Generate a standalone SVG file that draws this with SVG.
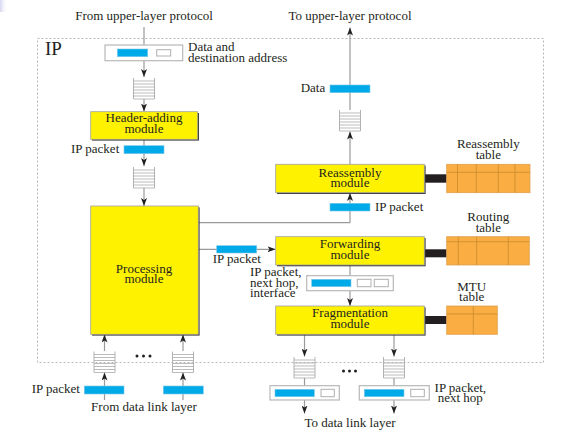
<svg xmlns="http://www.w3.org/2000/svg" width="588" height="438" viewBox="0 0 588 438" font-family="'Liberation Serif', 'DejaVu Serif', serif">
<defs>
<style>
text{font-family:'Liberation Serif','DejaVu Serif',serif;font-size:13px;fill:#231f20}
.c{text-anchor:middle}
.ln{stroke:#9a9a9a;stroke-width:1.2;fill:none}
.arr{stroke:#9a9a9a;stroke-width:1.2;fill:none;marker-end:url(#ah)}
.mod{fill:#fff200;stroke:#a0a0a0;stroke-width:0.8}
.sh{fill:#3a3a3a}
.pkt{fill:#00a9e8;stroke:#7cc8ea;stroke-width:0.6}
.wbox{fill:#fff;stroke:#b8b8b8;stroke-width:1.2}
.wsm{fill:#fff;stroke:#b0b0b0;stroke-width:1}
.tbl{fill:#f9ad42;stroke:#e0a050;stroke-width:0.8}
.tl{stroke:#c98a2c;stroke-width:0.8}
.conn{fill:#231f20}
.dot{fill:#231f20}
</style>
<marker id="ah" viewBox="0 0 8 6" markerWidth="8" markerHeight="6" refX="8" refY="3" orient="auto" markerUnits="userSpaceOnUse">
<path d="M0,0 L8,3 L0,6 L2,3 z" fill="#231f20"/>
</marker>
<g id="queue">
<path d="M0,0 V21 M21,0 V21" stroke="#aaaaaa" stroke-width="0.9" fill="none"/>
<path d="M0,3 H21 M0,6 H21 M0,9 H21 M0,12 H21 M0,15 H21 M0,18 H21 M0,21 H21" stroke="#aaaaaa" stroke-width="0.8" fill="none"/>
</g>
<linearGradient id="corner" x1="0" y1="0" x2="1" y2="0">
<stop offset="0" stop-color="#d6d6f2"/>
<stop offset="1" stop-color="#ffffff" stop-opacity="0"/>
</linearGradient>
</defs>
<rect x="0" y="0" width="8" height="12" fill="url(#corner)"/>

<!-- IP boundary -->
<rect x="37.5" y="38.5" width="506" height="324" fill="none" stroke="#b0b0b0" stroke-width="0.9" stroke-dasharray="2,2"/>
<text x="45" y="55" style="font-size:19px">IP</text>

<g id="connectors">
<line class="arr" x1="144" y1="27" x2="144" y2="77"/>
<line class="arr" x1="144" y1="99" x2="144" y2="111.5"/>
<line class="arr" x1="144" y1="139.5" x2="144" y2="166"/>
<line class="arr" x1="144" y1="188" x2="144" y2="206"/>
<polyline class="arr" points="198.5,222.7 350,222.7 350,193"/>
<line class="arr" x1="198.5" y1="249.3" x2="275.5" y2="249.3"/>
<line class="ln" x1="350" y1="265" x2="350" y2="276"/>
<line class="arr" x1="350" y1="290.7" x2="350" y2="306"/>
<line class="arr" x1="350" y1="164.3" x2="350" y2="131.5"/>
<line class="arr" x1="350" y1="110" x2="350" y2="27.5"/>
<line class="arr" x1="104.5" y1="400" x2="104.5" y2="372.5"/>
<line class="arr" x1="104.5" y1="351" x2="104.5" y2="334.5"/>
<line class="arr" x1="183" y1="400" x2="183" y2="372.5"/>
<line class="arr" x1="183" y1="351" x2="183" y2="334.5"/>
<line class="arr" x1="304.5" y1="334.5" x2="304.5" y2="356.5"/>
<line class="ln" x1="304.5" y1="378" x2="304.5" y2="386"/>
<line class="arr" x1="304.5" y1="400" x2="304.5" y2="413.5"/>
<line class="arr" x1="394" y1="334.5" x2="394" y2="356.5"/>
<line class="ln" x1="394" y1="378" x2="394" y2="386"/>
<line class="arr" x1="394" y1="400" x2="394" y2="413.5"/>
<rect class="conn" x="424.3" y="174.3" width="22.4" height="8.4"/>
<rect class="conn" x="424.3" y="249.3" width="22.4" height="8"/>
<rect class="conn" x="424.3" y="316" width="22.4" height="8"/>
</g>

<g id="data-in">
<rect class="wbox" x="105" y="45" width="77.7" height="15.7"/>
<rect class="pkt" x="117.3" y="49" width="30.4" height="7.7"/>
<rect class="wsm" x="156.7" y="49.7" width="14" height="6.3"/>
<text x="188" y="50.7">Data and</text>
<text x="188" y="61.5">destination address</text>
</g>

<g id="queues">
<use href="#queue" x="133.5" y="78"/>
<use href="#queue" x="133.5" y="167"/>
<use href="#queue" x="339.5" y="110"/>
<use href="#queue" x="94" y="351.5"/>
<use href="#queue" x="172.5" y="351.5"/>
<use href="#queue" x="294" y="357"/>
<use href="#queue" x="383.5" y="357"/>
</g>

<g id="header-adding">
<rect class="sh" x="92" y="113" width="107" height="27.6"/>
<rect class="mod" x="90.7" y="111.7" width="107" height="27.6"/>
<text class="c" x="144" y="122">Header-adding</text>
<text class="c" x="144" y="133">module</text>
</g>

<g id="ip-packet-1">
<rect class="pkt" x="124" y="145.7" width="40" height="8"/>
<text x="71" y="153">IP packet</text>
</g>

<g id="processing">
<rect class="sh" x="92" y="207.3" width="107.6" height="128.3"/>
<rect class="mod" x="90.7" y="206" width="107.6" height="128.3"/>
<text class="c" x="144" y="272.7">Processing</text>
<text class="c" x="144" y="282.7">module</text>
</g>

<g id="data-out">
<rect class="pkt" x="330" y="85" width="40" height="7.7"/>
<text x="300.7" y="91.7">Data</text>
</g>

<g id="reassembly">
<rect class="sh" x="277" y="165.6" width="148.6" height="28.4"/>
<rect class="mod" x="275.7" y="164.3" width="148.6" height="28.4"/>
<text class="c" x="350" y="176.7">Reassembly</text>
<text class="c" x="350" y="186.7">module</text>
</g>

<g id="reassembly-table">
<rect class="tbl" x="446.7" y="164.3" width="83.3" height="28.4"/>
<path class="tl" d="M446.7,172.3 H530 M457.5,164.3 V192.7 M476.3,164.3 V192.7 M498.3,164.3 V192.7 M515,164.3 V192.7"/>
<text class="c" x="488.3" y="148.3">Reassembly</text>
<text class="c" x="488.3" y="159.3">table</text>
</g>

<g id="ip-packet-2">
<rect class="pkt" x="330" y="203.3" width="40" height="7.7"/>
<text x="375" y="210.7">IP packet</text>
</g>

<g id="ip-packet-3">
<rect class="pkt" x="216.7" y="245.7" width="40" height="7.3"/>
<text x="212.7" y="263.3">IP packet</text>
</g>

<g id="forwarding">
<rect class="sh" x="277" y="238" width="148.6" height="28.3"/>
<rect class="mod" x="275.7" y="236.7" width="148.6" height="28.3"/>
<text class="c" x="350" y="248.3">Forwarding</text>
<text class="c" x="350" y="259.3">module</text>
</g>

<g id="routing-table">
<rect class="tbl" x="446.7" y="236.7" width="82.6" height="28.3"/>
<path class="tl" d="M446.7,241.7 H529.3 M458.3,236.7 V265 M476.7,236.7 V265 M508.3,236.7 V265"/>
<text class="c" x="488.3" y="220.7">Routing</text>
<text class="c" x="488.3" y="231.7">table</text>
</g>

<g id="next-hop-box">
<rect class="wbox" x="306.7" y="275.7" width="86.6" height="15"/>
<rect class="pkt" x="311.7" y="279.3" width="39.3" height="7.4"/>
<rect class="wsm" x="357.3" y="279.3" width="13.7" height="7.4"/>
<rect class="wsm" x="374.3" y="279.3" width="14" height="7.4"/>
<text x="250" y="276">IP packet,</text>
<text x="250" y="286.7">next hop,</text>
<text x="250" y="297.3">interface</text>
</g>

<g id="fragmentation">
<rect class="sh" x="277" y="307.3" width="148.6" height="28.3"/>
<rect class="mod" x="275.7" y="306" width="148.6" height="28.3"/>
<text class="c" x="350" y="317.3">Fragmentation</text>
<text class="c" x="350" y="328.3">module</text>
</g>

<g id="mtu-table">
<rect class="tbl" x="446.7" y="306" width="50.6" height="28.3"/>
<path class="tl" d="M446.7,314 H497.3 M473.3,306 V334.3"/>
<text class="c" x="471.7" y="290.7">MTU</text>
<text class="c" x="471.7" y="301">table</text>
</g>

<g id="data-link-in">
<circle class="dot" cx="137" cy="356" r="1.5"/>
<circle class="dot" cx="143.5" cy="356" r="1.5"/>
<circle class="dot" cx="150" cy="356" r="1.5"/>
<rect class="pkt" x="84.3" y="386" width="39.7" height="8"/>
<rect class="pkt" x="163.3" y="386" width="40" height="8"/>
<text x="31.7" y="393.3">IP packet</text>
<text class="c" x="144" y="410.7">From data link layer</text>
</g>

<g id="data-link-out">
<circle class="dot" cx="343.5" cy="371" r="1.5"/>
<circle class="dot" cx="349.5" cy="371" r="1.5"/>
<circle class="dot" cx="355.5" cy="371" r="1.5"/>
<rect class="wbox" x="270" y="385.7" width="69.3" height="14.3"/>
<rect class="pkt" x="275" y="389.3" width="39.3" height="7.4"/>
<rect class="wsm" x="321" y="389.3" width="13.3" height="7.4"/>
<rect class="wbox" x="359.3" y="385.7" width="70" height="14.3"/>
<rect class="pkt" x="364.3" y="389.3" width="39.7" height="7.4"/>
<rect class="wsm" x="410.7" y="389.3" width="13.6" height="7.4"/>
<text class="c" x="460.3" y="391.7">IP packet,</text>
<text class="c" x="460.3" y="402.3">next hop</text>
<text class="c" x="350" y="426.7">To data link layer</text>
</g>

<g id="labels">
<text class="c" x="144" y="20">From upper-layer protocol</text>
<text class="c" x="350" y="20">To upper-layer protocol</text>
</g>
</svg>
